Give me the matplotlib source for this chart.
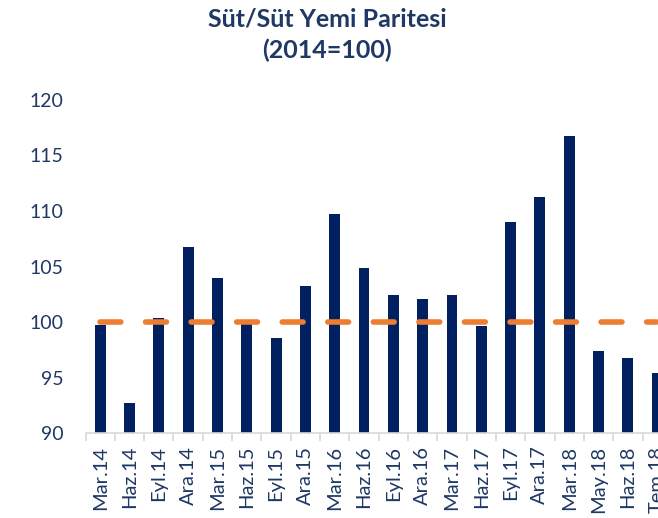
import matplotlib.pyplot as plt
from matplotlib.ticker import FixedLocator

plt.rcParams['font.family'] = ['Lato', 'DejaVu Sans']
plt.rcParams['lines.scale_dashes'] = False

# Data
labels = ['Mar.14', 'Haz.14', 'Eyl.14', 'Ara.14', 'Mar.15', 'Haz.15', 'Eyl.15',
          'Ara.15', 'Mar.16', 'Haz.16', 'Eyl.16', 'Ara.16', 'Mar.17', 'Haz.17',
          'Eyl.17', 'Ara.17', 'Mar.18', 'May.18', 'Haz.18', 'Tem.18']
parity = [99.7, 92.7, 100.4, 106.8, 104.0, 100.1, 98.6, 103.2, 109.7, 104.9,
          102.4, 102.1, 102.4, 99.6, 109.0, 111.3, 116.8, 97.4, 96.8, 95.4]
base = [100] * len(labels)

navy = '#002060'
text_col = '#1F3864'

fig = plt.figure(figsize=(6.58, 5.18), dpi=100)
# axes run past the right edge, like the cropped original
ax = fig.add_axes([0.13, 0.164, 0.891, 0.643])

x = list(range(len(labels)))
ax.bar(x, parity, width=0.37, color=navy, zorder=2)
ax.plot(x, base, color='#ED7D31', lw=4, dashes=(15, 17.8),
        dash_capstyle='round', zorder=3, clip_on=False)

ax.set_ylim(90, 120)
ax.set_xlim(-0.5, len(labels) - 0.5)
ax.set_yticks([90, 95, 100, 105, 110, 115, 120])
ax.tick_params(axis='y', length=0, pad=16, labelsize=14, labelcolor=text_col)

ax.set_xticks(x)
ax.set_xticklabels(labels, rotation=90, fontsize=14.5, color=text_col)
ax.tick_params(axis='x', which='major', length=0, pad=9)
ax.xaxis.set_minor_locator(FixedLocator([i - 0.5 for i in range(len(labels) + 1)]))
ax.tick_params(axis='x', which='minor', length=6, color='#D9D9D9', width=1.2)

for side in ['top', 'right', 'left']:
    ax.spines[side].set_visible(False)
ax.spines['bottom'].set_color('#D9D9D9')
ax.spines['bottom'].set_linewidth(1.2)

fig.text(0.497, 0.985, 'Süt/Süt Yemi Paritesi\n(2014=100)', ha='center', va='top',
         fontsize=18, fontweight='bold', color=text_col, linespacing=1.4)

fig.savefig('out.png', dpi=100)
